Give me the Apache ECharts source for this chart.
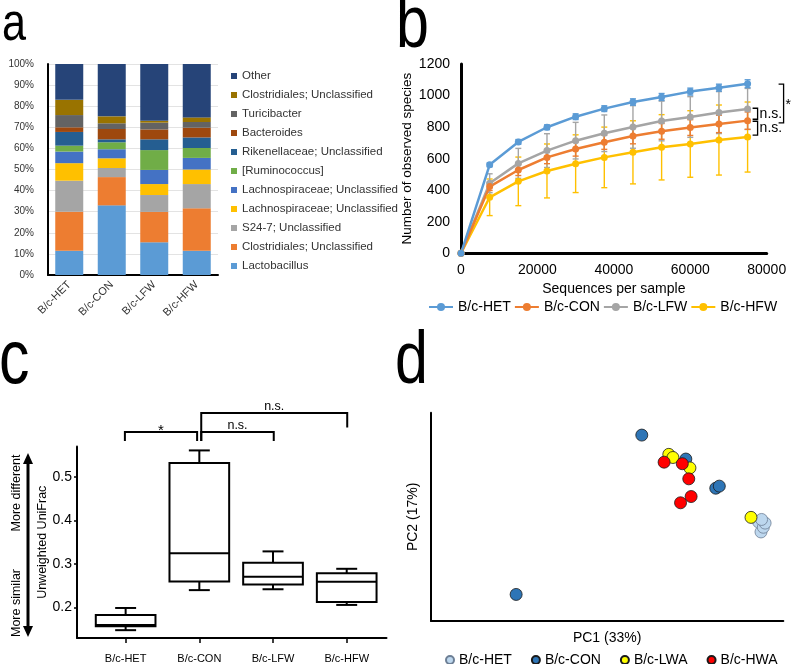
<!DOCTYPE html>
<html><head><meta charset="utf-8">
<script src="https://cdn.jsdelivr.net/npm/echarts@6/dist/echarts.min.js"></script>
<style>html,body{margin:0;padding:0;background:#fff}#c{width:792px;height:664px}</style>
</head><body><div id="c"></div>
<script>
// ---------- Panel a: taxonomic composition (%) ----------
const catsA = ['B/c-HET', 'B/c-CON', 'B/c-LFW', 'B/c-HFW'];
const lactobacillus   = [11.5, 33.0, 15.5, 11.5];
const clostridialesA  = [18.5, 13.4, 14.4, 20.1];
const s247            = [14.7, 4.3, 8.0, 11.5];
const lachnoYellow    = [8.3, 4.6, 5.2, 6.9];
const lachnoBlue      = [5.5, 4.3, 6.7, 5.5];
const ruminococcus    = [2.8, 3.3, 9.4, 4.7];
const rikenellaceae   = [6.5, 1.4, 5.1, 5.0];
const bacteroides     = [2.2, 4.9, 4.7, 4.6];
const turicibacter    = [5.8, 2.7, 3.2, 2.7];
const clostridialesB  = [7.2, 3.3, 0.9, 2.2];
const otherTaxa       = [17.0, 24.8, 26.9, 25.3];
const taxaNames = ['Lactobacillus', 'Clostridiales; Unclassified', 'S24-7; Unclassified',
  'Lachnospiraceae; Unclassified', 'Lachnospiraceae; Unclassified ', '[Ruminococcus]',
  'Rikenellaceae; Unclassified', 'Bacteroides', 'Turicibacter', 'Clostridiales; Unclassified ', 'Other'];

// ---------- Panel b: rarefaction ----------
const seqPerSample = [0, 7500, 15000, 22500, 30000, 37500, 45000, 52500, 60000, 67500, 75000];
const rareHET = [0, 561, 706, 799, 866, 917, 959, 991, 1025, 1050, 1075];
const rareCON = [0, 423, 528, 608, 661, 704, 744, 773, 797, 820, 841];
const rareLFW = [0, 444, 570, 651, 714, 761, 801, 839, 864, 892, 915];
const rareHFW = [0, 355, 456, 522, 568, 608, 640, 672, 693, 718, 737];
const sdHET = [0, 12, 15, 15, 18, 18, 20, 22, 22, 22, 25];
const sdCON = [0, 25, 35, 40, 45, 45, 50, 50, 50, 55, 55];
const sdLFW = [0, 60, 95, 107, 116, 116, 135, 126, 129, 133, 130];
const sdHFW = [0, 116, 154, 171, 183, 192, 200, 207, 211, 222, 222];
const groupsB = ['B/c-HET', 'B/c-CON', 'B/c-LFW', 'B/c-HFW'];

// ---------- Panel c: unweighted UniFrac boxplots ----------
const boxCats = ['B/c-HET', 'B/c-CON', 'B/c-LFW', 'B/c-HFW'];
const boxMin = [0.148, 0.240, 0.242, 0.206];
const boxQ1  = [0.157, 0.260, 0.253, 0.213];
const boxMed = [0.160, 0.325, 0.271, 0.259];
const boxQ3  = [0.183, 0.532, 0.303, 0.279];
const boxMax = [0.199, 0.561, 0.329, 0.289];
const uniTicks = [0.2, 0.3, 0.4, 0.5];

// ---------- Panel d: PCoA ----------
const hetPC1 = [0.258, 0.262, 0.266, 0.269, 0.263];
const hetPC2 = [-0.010, -0.029, -0.020, -0.012, -0.005];
const conPC1 = [0.059, 0.134, 0.185, 0.191, -0.155];
const conPC2 = [0.157, 0.111, 0.055, 0.059, -0.149];
const lwaPC1 = [0.105, 0.112, 0.141, 0.245];
const lwaPC2 = [0.120, 0.114, 0.094, -0.001];
const hwaPC1 = [0.097, 0.128, 0.139, 0.143, 0.125];
const hwaPC2 = [0.105, 0.102, 0.073, 0.039, 0.027];
const groupsD = ['B/c-HET ', 'B/c-CON ', 'B/c-LWA', 'B/c-HWA'];

// ---------- styles ----------
const FONT = 'Liberation Sans, Arial, sans-serif';
const taxaColors = ['#5B9BD5', '#ED7D31', '#A5A5A5', '#FFC000', '#4472C4', '#70AD47',
  '#255E91', '#9E480E', '#636363', '#997300', '#264478'];
const colorsB = ['#5B9BD5', '#ED7D31', '#A5A5A5', '#FFC000'];
const colorsD = ['#BDD7EE', '#2E75B6', '#FFFF00', '#FF0000'];

const chart = echarts.init(document.getElementById('c'), null, {renderer: 'canvas'});

const series = [];
// a
const taxaValues = [lactobacillus, clostridialesA, s247, lachnoYellow, lachnoBlue, ruminococcus,
  rikenellaceae, bacteroides, turicibacter, clostridialesB, otherTaxa];
taxaNames.forEach((n, i) => {
  series.push({type: 'bar', name: n, stack: 'a', xAxisIndex: 0, yAxisIndex: 0,
    data: taxaValues[i], barWidth: 28, itemStyle: {color: taxaColors[i]}, animation: false});
});
// b
const rareVals = [rareHET, rareCON, rareLFW, rareHFW];
const rareSD = [sdHET, sdCON, sdLFW, sdHFW];
[3, 2, 1, 0].forEach(i => {
  series.push({
    type: 'custom', name: 'err' + i, xAxisIndex: 1, yAxisIndex: 1, z: 1,
    data: seqPerSample.map((x, k) => [x, rareVals[i][k] - rareSD[i][k], rareVals[i][k] + rareSD[i][k]]).slice(1),
    encode: {x: 0, y: [1, 2]},
    renderItem: function (params, api) {
      const x = api.value(0);
      const lo = api.coord([x, api.value(1)]);
      const hi = api.coord([x, api.value(2)]);
      const st = {stroke: colorsB[i], lineWidth: 1.4};
      return {type: 'group', children: [
        {type: 'line', shape: {x1: lo[0], y1: lo[1], x2: hi[0], y2: hi[1]}, style: st},
        {type: 'line', shape: {x1: lo[0] - 3, y1: lo[1], x2: lo[0] + 3, y2: lo[1]}, style: st},
        {type: 'line', shape: {x1: hi[0] - 3, y1: hi[1], x2: hi[0] + 3, y2: hi[1]}, style: st}
      ]};
    }, animation: false
  });
});
[3, 2, 1, 0].forEach(i => {
  series.push({type: 'line', name: groupsB[i], xAxisIndex: 1, yAxisIndex: 1, z: 3,
    data: seqPerSample.map((x, k) => [x, rareVals[i][k]]),
    symbol: 'circle', symbolSize: 7, showSymbol: true,
    lineStyle: {color: colorsB[i], width: 2.5}, itemStyle: {color: colorsB[i]}, animation: false});
});
// c
series.push({
  type: 'custom', name: 'box', xAxisIndex: 2, yAxisIndex: 2,
  data: boxCats.map((c, i) => [i + 1, boxMin[i], boxQ1[i], boxMed[i], boxQ3[i], boxMax[i]]),
  encode: {x: 0, y: [1, 2, 3, 4, 5]},
  renderItem: function (params, api) {
    const x = api.value(0);
    const pMin = api.coord([x, api.value(1)]);
    const pQ1 = api.coord([x, api.value(2)]);
    const pMed = api.coord([x, api.value(3)]);
    const pQ3 = api.coord([x, api.value(4)]);
    const pMax = api.coord([x, api.value(5)]);
    const unit = api.size([1, 0])[0];
    const hw = unit * 0.405, cw = unit * 0.23, cx = pMin[0];
    const st = {stroke: '#000', lineWidth: 2, fill: null};
    return {type: 'group', children: [
      {type: 'line', shape: {x1: cx, y1: pQ3[1], x2: cx, y2: pMax[1]}, style: st},
      {type: 'line', shape: {x1: cx - cw / 2 - 2, y1: pMax[1], x2: cx + cw / 2 + 2, y2: pMax[1]}, style: st},
      {type: 'line', shape: {x1: cx, y1: pQ1[1], x2: cx, y2: pMin[1]}, style: st},
      {type: 'line', shape: {x1: cx - cw / 2 - 2, y1: pMin[1], x2: cx + cw / 2 + 2, y2: pMin[1]}, style: st},
      {type: 'rect', shape: {x: cx - hw, y: pQ3[1], width: hw * 2, height: pQ1[1] - pQ3[1]},
        style: {stroke: '#000', lineWidth: 2, fill: '#fff'}},
      {type: 'line', shape: {x1: cx - hw, y1: pMed[1], x2: cx + hw, y2: pMed[1]}, style: st}
    ]};
  }, animation: false
});
// d
const pcX = [hetPC1, conPC1, lwaPC1, hwaPC1];
const pcY = [hetPC2, conPC2, lwaPC2, hwaPC2];
groupsD.forEach((n, i) => {
  series.push({type: 'scatter', name: n, xAxisIndex: 3, yAxisIndex: 3, z: 2 + i,
    data: pcX[i].map((v, k) => [v, pcY[i][k]]), symbolSize: 12,
    itemStyle: {color: colorsD[i], borderColor: i === 0 ? '#6d7f95' : '#1a1a1a', borderWidth: 0.8, opacity: 1},
    animation: false});
});

const blackAxis = w => ({show: true, onZero: false, lineStyle: {color: '#000', width: w}});
const plain = v => String(v);

const option = {
  backgroundColor: '#fff',
  animation: false,
  textStyle: {fontFamily: FONT},
  grid: [
    {left: 48, top: 64, width: 170, height: 211},
    {left: 461, top: 64, width: 305.7, height: 189.3},
    {left: 77, top: 446.5, width: 309.5, height: 193.6},
    {left: 431, top: 412.7, width: 352.3, height: 208.3}
  ],
  xAxis: [
    {type: 'category', gridIndex: 0, data: catsA, axisLine: blackAxis(2), axisTick: {show: false},
      axisLabel: {rotate: 45, fontSize: 11, color: '#333', margin: 8, fontFamily: FONT}},
    {type: 'value', gridIndex: 1, min: 0, max: 80000, interval: 20000, axisLine: blackAxis(3),
      axisTick: {show: false}, splitLine: {show: false},
      axisLabel: {fontSize: 14, color: '#000', margin: 10, fontFamily: FONT, formatter: plain},
      name: 'Sequences per sample', nameLocation: 'middle', nameGap: 29,
      nameTextStyle: {fontSize: 14, color: '#000', fontFamily: FONT}},
    {type: 'value', gridIndex: 2, min: 0.34, max: 4.54, axisLine: blackAxis(2),
      axisTick: {show: true, customValues: [1, 2, 3, 4], length: 5, lineStyle: {color: '#000', width: 1.5}},
      splitLine: {show: false},
      axisLabel: {customValues: [1, 2, 3, 4], formatter: v => boxCats[Math.round(v) - 1],
        fontSize: 11, color: '#000', margin: 15, fontFamily: FONT}},
    {type: 'value', gridIndex: 3, min: -0.3, max: 0.3, axisLine: blackAxis(2),
      axisTick: {show: false}, axisLabel: {show: false}, splitLine: {show: false},
      name: 'PC1 (33%)', nameLocation: 'middle', nameGap: 10,
      nameTextStyle: {fontSize: 14, color: '#000', fontFamily: FONT}}
  ],
  yAxis: [
    {type: 'value', gridIndex: 0, min: 0, max: 100, interval: 10, axisLine: blackAxis(2),
      axisTick: {show: false}, splitLine: {show: true, lineStyle: {color: '#e3e3e3', width: 1}},
      axisLabel: {formatter: '{value}%', fontSize: 10, color: '#333', margin: 14, fontFamily: FONT}},
    {type: 'value', gridIndex: 1, min: 0, max: 1200, interval: 200, axisLine: blackAxis(3),
      axisTick: {show: false}, splitLine: {show: false},
      axisLabel: {fontSize: 14, color: '#000', margin: 11, fontFamily: FONT, formatter: plain},
      name: 'Number of observed species', nameLocation: 'middle', nameGap: 47,
      nameTextStyle: {fontSize: 13.5, color: '#000', fontFamily: FONT}},
    {type: 'value', gridIndex: 2, min: 0.13, max: 0.57, axisLine: blackAxis(2),
      axisTick: {show: true, customValues: uniTicks, length: 3, lineStyle: {color: '#000', width: 1.5}},
      splitLine: {show: false},
      axisLabel: {customValues: uniTicks, formatter: v => v.toFixed(1), fontSize: 14, color: '#000',
        margin: 5, fontFamily: FONT},
      name: 'Unweighted UniFrac', nameLocation: 'middle', nameGap: 28,
      nameTextStyle: {fontSize: 12.5, color: '#000', fontFamily: FONT}},
    {type: 'value', gridIndex: 3, min: -0.2, max: 0.2, axisLine: blackAxis(2),
      axisTick: {show: false}, axisLabel: {show: false}, splitLine: {show: false},
      name: 'PC2 (17%)', nameLocation: 'middle', nameGap: 11,
      nameTextStyle: {fontSize: 14, color: '#000', fontFamily: FONT}}
  ],
  legend: [
    {orient: 'vertical', left: 226, top: 65, itemWidth: 6, itemHeight: 6, itemGap: 7,
      icon: 'rect', data: taxaNames.slice().reverse(), formatter: n => n.trim(),
      textStyle: {fontSize: 11.5, color: '#333', fontFamily: FONT, lineHeight: 12}, selectedMode: false},
    {orient: 'horizontal', left: 423, top: 295, itemWidth: 24, itemHeight: 10, itemGap: 3,
      data: groupsB, textStyle: {fontSize: 14, color: '#000', fontFamily: FONT}, selectedMode: false},
    {orient: 'horizontal', left: 440, top: 648, itemWidth: 8, itemHeight: 8, itemGap: 19, icon: 'circle',
      data: groupsD, formatter: n => n.trim(),
      textStyle: {fontSize: 14, color: '#000', fontFamily: FONT}, selectedMode: false}
  ],
  series: series
};
chart.setOption(option);

// ---------- annotations ----------
const px = (g, v) => chart.convertToPixel({gridIndex: g}, v);
const gfx = [];
const letter = (t, x, y, size) => gfx.push({type: 'text', x: x, y: y, scaleX: 0.8,
  style: {text: t, fontSize: size, fontFamily: FONT, fill: '#000', align: 'left', verticalAlign: 'middle',
    textAlign: 'left', textVerticalAlign: 'middle'}});
letter('a', 2, 25, 54);
letter('b', 396, 27, 74);
letter('c', -1, 362, 76);
letter('d', 395, 363, 74);

// panel b significance brackets
const lastX = seqPerSample[seqPerSample.length - 1];
const pH = px(1, [lastX, rareHET[10]]), pC = px(1, [lastX, rareCON[10]]);
const pL = px(1, [lastX, rareLFW[10]]), pF = px(1, [lastX, rareHFW[10]]);
const brB = (x, y1, y2, lbl) => {
  gfx.push({type: 'polyline', shape: {points: [[x - 5, y1], [x, y1], [x, y2], [x - 5, y2]]},
    style: {stroke: '#000', lineWidth: 1.3, fill: null}});
  gfx.push({type: 'text', x: x + 2, y: (y1 + y2) / 2 + (lbl === '*' ? 2 : 0),
    style: {text: lbl, fontSize: 14, fontFamily: FONT, fill: '#000', align: 'left', verticalAlign: 'middle',
      textAlign: 'left', textVerticalAlign: 'middle'}});
};
brB(pH[0] + 10, pL[1] - 0.7, pC[1] - 1.4, 'n.s.');
brB(pH[0] + 10, pC[1] + 0.6, pF[1] - 1.9, 'n.s.');
brB(pH[0] + 36, pH[1] + 0.5, pC[1] + 2.3, '*');

// panel c brackets
const cBrackets = [
  {x1: 0.99, x2: 1.97, top: 0.6036, leg1: 0.5825, leg2: 0.5825, label: '*', lab: 0.615},
  {x1: 2.026, x2: 3.01, top: 0.6036, leg1: 0.5825, leg2: 0.5825, label: 'n.s.', lab: 0.619},
  {x1: 2.026, x2: 4.007, top: 0.6468, leg1: 0.5825, leg2: 0.6136, label: 'n.s.', lab: 0.662}
];
cBrackets.forEach(b => {
  const a1 = px(2, [b.x1, b.leg1]), t1 = px(2, [b.x1, b.top]);
  const t2 = px(2, [b.x2, b.top]), a2 = px(2, [b.x2, b.leg2]);
  gfx.push({type: 'polyline', shape: {points: [a1, t1, t2, a2]},
    style: {stroke: '#000', lineWidth: 2, fill: null}});
  const lp = px(2, [(b.x1 + b.x2) / 2, b.lab]);
  gfx.push({type: 'text', x: lp[0], y: lp[1] + (b.label === '*' ? 4 : 0),
    style: {text: b.label, fontSize: b.label === '*' ? 15 : 12.5, fontFamily: FONT, fill: '#000',
      align: 'center', verticalAlign: 'middle', textAlign: 'center', textVerticalAlign: 'middle'}});
});

// panel c similarity arrow
gfx.push({type: 'line', shape: {x1: 28, y1: 460, x2: 28, y2: 630}, style: {stroke: '#000', lineWidth: 3}});
gfx.push({type: 'polygon', shape: {points: [[28, 453], [23, 464], [33, 464]]}, style: {fill: '#000'}});
gfx.push({type: 'polygon', shape: {points: [[28, 637], [23, 626], [33, 626]]}, style: {fill: '#000'}});
gfx.push({type: 'text', x: 17, y: 493, rotation: Math.PI / 2,
  style: {text: 'More different', fontSize: 12.5, fontFamily: FONT, fill: '#000', align: 'center',
    verticalAlign: 'middle', textAlign: 'center', textVerticalAlign: 'middle'}});
gfx.push({type: 'text', x: 17, y: 603, rotation: Math.PI / 2,
  style: {text: 'More similar', fontSize: 12.5, fontFamily: FONT, fill: '#000', align: 'center',
    verticalAlign: 'middle', textAlign: 'center', textVerticalAlign: 'middle'}});

chart.setOption({graphic: {elements: gfx}});
</script>
</body></html>
